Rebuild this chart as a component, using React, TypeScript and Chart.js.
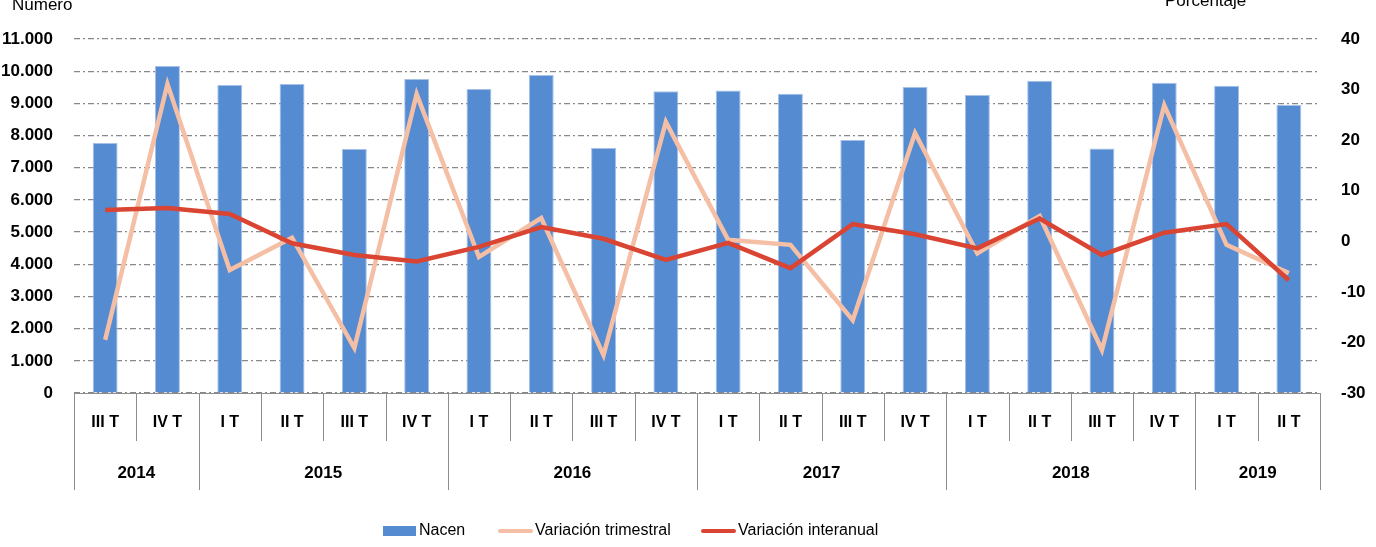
import React, { useEffect, useRef } from "react";
import { Chart, registerables } from "chart.js";

Chart.register(...registerables);

const quarters = ["III T", "IV T", "I T", "II T", "III T", "IV T", "I T", "II T", "III T", "IV T", "I T", "II T", "III T", "IV T", "I T", "II T", "III T", "IV T", "I T", "II T"];
const years = ["2014", "2015", "2016", "2017", "2018", "2019"];
const yearSpans = [2, 4, 4, 4, 4, 2];
const nacen = [7770, 10160, 9570, 9600, 7580, 9760, 9450, 9880, 7610, 9380, 9400, 9300, 7860, 9510, 9260, 9700, 7600, 9640, 9550, 8950];
const varTrimestral = [-19.5, 31.1, -5.7, 0.7, -21.1, 29.1, -3.1, 4.6, -22.5, 23.6, 0.3, -0.7, -15.6, 21.4, -2.4, 5.0, -21.5, 26.9, -0.7, -6.3];
const varInteranual = [6.2, 6.6, 5.4, -0.4, -2.7, -4.0, -1.1, 2.8, 0.5, -3.7, -0.3, -5.3, 3.4, 1.4, -1.4, 4.5, -2.7, 1.7, 3.4, -7.7];

const FONT = "'Liberation Sans', Arial, sans-serif";
const BLUE = "#558BD1";
const PINK = "#F5BFA6";
const RED = "#DA4432";
const GREY = "#8C8C8C";

const overlay = {
  id: "overlay",
  afterDraw(chart: any) {
    const ctx = chart.ctx;
    const area = chart.chartArea;
    const x = chart.scales.x;
    const n = quarters.length;
    const w = (area.right - area.left) / n;
    ctx.save();
    // axis line
    ctx.strokeStyle = GREY;
    ctx.lineWidth = 1;
    ctx.setLineDash([]);
    ctx.beginPath();
    ctx.moveTo(area.left, area.bottom + 0.5);
    ctx.lineTo(area.right, area.bottom + 0.5);
    ctx.stroke();
    // separators
    const yearBounds = new Set<number>();
    let acc = 0;
    yearBounds.add(0);
    yearSpans.forEach((s) => { acc += s; yearBounds.add(acc); });
    for (let i = 0; i <= n; i++) {
      const px = Math.round(area.left + i * w) + 0.5;
      const bottom = yearBounds.has(i) ? area.bottom + 97 : area.bottom + 48;
      ctx.beginPath();
      ctx.moveTo(px, area.bottom);
      ctx.lineTo(px, bottom);
      ctx.stroke();
    }
    // quarter labels
    ctx.fillStyle = "#000";
    ctx.textAlign = "center";
    ctx.textBaseline = "middle";
    ctx.font = `bold 16px ${FONT}`;
    quarters.forEach((q, i) => {
      ctx.fillText(q, x.getPixelForValue(i), area.bottom + 30);
    });
    // year labels
    ctx.font = `bold 17px ${FONT}`;
    let start = 0;
    years.forEach((yr, k) => {
      const span = yearSpans[k];
      const cx = area.left + (start + span / 2) * w;
      ctx.fillText(yr, cx, area.bottom + 80);
      start += span;
    });
    // axis titles
    ctx.font = `17px ${FONT}`;
    ctx.textAlign = "left";
    ctx.fillText("Número", 12, 5);
    ctx.fillText("Porcentaje", 1165, 1);
    // legend
    const ly = 531;
    ctx.font = `16px ${FONT}`;
    ctx.fillStyle = BLUE;
    ctx.fillRect(383, 526, 33, 10);
    ctx.fillStyle = "#000";
    ctx.fillText("Nacen", 419, ly);
    ctx.lineCap = "round";
    ctx.lineWidth = 4;
    ctx.strokeStyle = PINK;
    ctx.beginPath();
    ctx.moveTo(500, ly);
    ctx.lineTo(531, ly);
    ctx.stroke();
    ctx.fillText("Variación trimestral", 535, ly);
    ctx.strokeStyle = RED;
    ctx.beginPath();
    ctx.moveTo(703, ly);
    ctx.lineTo(734, ly);
    ctx.stroke();
    ctx.fillText("Variación interanual", 738, ly);
    ctx.restore();
  },
};

export default function App() {
  const ref = useRef<HTMLCanvasElement | null>(null);
  useEffect(() => {
    if (!ref.current) return;
    const chart = new Chart(ref.current, {
      type: "bar",
      data: {
        labels: quarters,
        datasets: [
          {
            type: "line",
            label: "Variación interanual",
            data: varInteranual,
            yAxisID: "y1",
            borderColor: RED,
            backgroundColor: RED,
            borderWidth: 4.5,
            pointRadius: 0,
            tension: 0,
            order: 1,
          },
          {
            type: "line",
            label: "Variación trimestral",
            data: varTrimestral,
            yAxisID: "y1",
            borderColor: PINK,
            backgroundColor: PINK,
            borderWidth: 4.5,
            pointRadius: 0,
            tension: 0,
            order: 2,
          },
          {
            type: "bar",
            label: "Nacen",
            data: nacen,
            yAxisID: "y",
            backgroundColor: BLUE,
            borderColor: "#A6C1E8",
            borderWidth: 1,
            categoryPercentage: 1,
            barPercentage: 0.4,
            order: 3,
          },
        ],
      },
      options: {
        responsive: false,
        animation: false,
        layout: { padding: { top: 39, left: 0, right: 0, bottom: 0 } },
        plugins: { legend: { display: false }, tooltip: { enabled: false } },
        scales: {
          x: {
            display: true,
            ticks: { display: false },
            grid: { display: false },
            border: { display: false },
            afterFit: (s: any) => { s.height = 154; },
          },
          y: {
            position: "left",
            min: 0,
            max: 11000,
            ticks: {
              stepSize: 1000,
              padding: 21,
              color: "#000",
              font: { family: FONT, size: 17, weight: "bold" },
              callback: (v: any) => Number(v).toLocaleString("de-DE"),
            },
            grid: { color: "#888888", lineWidth: 1.2, drawTicks: false },
            border: { display: false, dash: [6, 3, 2, 3] },
            afterFit: (s: any) => { s.width = 74; },
          },
          y1: {
            position: "right",
            min: -30,
            max: 40,
            ticks: {
              stepSize: 10,
              padding: 21,
              color: "#000",
              font: { family: FONT, size: 17, weight: "bold" },
            },
            grid: { display: false, drawTicks: false },
            border: { display: false },
            afterFit: (s: any) => { s.width = 56; },
          },
        },
      },
      plugins: [overlay],
    });
    return () => chart.destroy();
  }, []);
  return (
    <div style={{ position: "absolute", left: 0, top: 0, width: 1376, height: 547, background: "#fff" }}>
      <canvas ref={ref} width={1376} height={547} style={{ display: "block" }} />
    </div>
  );
}
